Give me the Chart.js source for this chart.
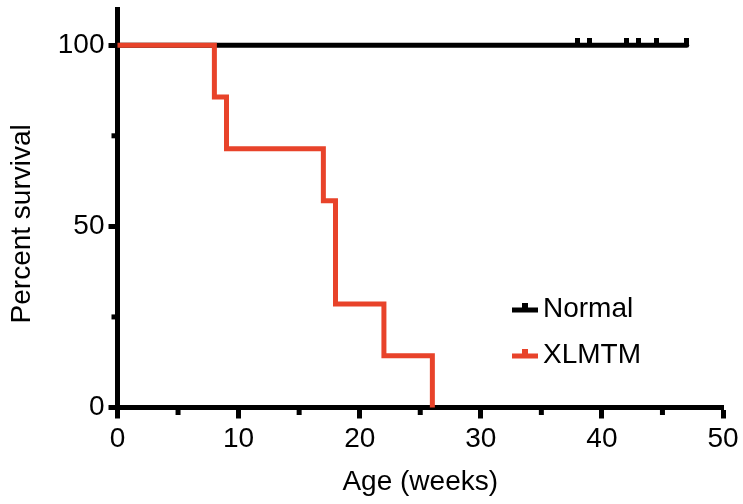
<!DOCTYPE html>
<html>
<head>
<meta charset="utf-8">
<script src="https://cdn.jsdelivr.net/npm/chart.js@4.4.1/dist/chart.umd.min.js"></script>
<style>
  html, body { margin: 0; padding: 0; background: #fff; }
  #wrap { width: 743px; height: 504px; }
</style>
</head>
<body>
<div id="wrap"><canvas id="survival"></canvas></div>
<script>
// Kaplan-Meier survival, values
const normalWeeks = [0, 38, 39, 42, 43, 44.5, 47];
const normalSurvival = [100, 100, 100, 100, 100, 100, 100];
const xlmtmWeeks = [0, 8, 9, 17, 18, 22, 26];
const xlmtmSurvival = [100, 85.7, 71.4, 57.1, 28.6, 14.3, 0];
const xMinorTicks = [5, 15, 25, 35, 45];
const yTicks = [0, 50, 100];
const yMinorTicks = [25, 75];
const seriesNames = ["Normal", "XLMTM"];
const seriesColors = ["#000000", "#e8432a"];

Chart.defaults.font.family = '"Liberation Sans", Arial, Helvetica, sans-serif';
Chart.defaults.color = "#000";

// censor tick: small block sitting on top of the line
function censorMark(color) {
  const c = document.createElement("canvas");
  c.width = 5;
  c.height = 14;
  const g = c.getContext("2d");
  g.fillStyle = color;
  g.fillRect(0, 0, 5, 7);
  return c;
}
const normalMark = censorMark(seriesColors[0]);

function toPoints(xs, ys) {
  return xs.map((x, i) => ({ x: x, y: ys[i] }));
}

// short ticks between the labelled ones
const minorTicks = {
  id: "minorTicks",
  afterDraw(chart) {
    const ctx = chart.ctx;
    const xs = chart.scales.x;
    const ys = chart.scales.y;
    const area = chart.chartArea;
    ctx.save();
    ctx.fillStyle = "#000";
    xMinorTicks.forEach((v) => {
      const px = xs.getPixelForValue(v);
      ctx.fillRect(px - 2.5, area.bottom, 5, 7.5);
    });
    yMinorTicks.forEach((v) => {
      const py = ys.getPixelForValue(v);
      ctx.fillRect(area.left - 6, py - 2.5, 6, 5);
    });
    ctx.restore();
  },
};

// legend inside the plot, bottom right
const insideLegend = {
  id: "insideLegend",
  afterDraw(chart) {
    const ctx = chart.ctx;
    ctx.save();
    ctx.font = '28px "Liberation Sans", Arial, sans-serif';
    ctx.textBaseline = "middle";
    seriesNames.forEach((name, i) => {
      const y = 310 + i * 46;
      ctx.fillStyle = seriesColors[i];
      ctx.fillRect(512, y - 2.5, 26, 5);
      ctx.fillRect(522, y - 7, 6, 5);
      ctx.fillStyle = "#000";
      ctx.fillText(name, 543, y - 1);
    });
    ctx.restore();
  },
};

new Chart(document.getElementById("survival"), {
  type: "line",
  data: {
    datasets: [
      {
        label: seriesNames[0],
        data: toPoints(normalWeeks, normalSurvival),
        borderColor: seriesColors[0],
        borderWidth: 5,
        borderCapStyle: "round",
        stepped: "before",
        pointStyle: normalMark,
        pointRadius: (c) => (c.dataIndex === 0 ? 0 : 3),
        order: 1,
      },
      {
        label: seriesNames[1],
        data: toPoints(xlmtmWeeks, xlmtmSurvival),
        borderColor: seriesColors[1],
        borderWidth: 5,
        borderCapStyle: "round",
        borderJoinStyle: "miter",
        stepped: "before",
        pointRadius: 0,
        order: 0,
      },
    ],
  },
  options: {
    responsive: true,
    maintainAspectRatio: false,
    animation: false,
    events: [],
    layout: { padding: { left: 0, right: 20, top: -3, bottom: 0 } },
    plugins: {
      legend: { display: false },
      tooltip: { enabled: false },
    },
    scales: {
      x: {
        type: "linear",
        min: 0,
        max: 50,
        ticks: { stepSize: 10, font: { size: 28 }, padding: 4 },
        grid: {
          drawOnChartArea: false,
          tickLength: 11,
          tickWidth: 5,
          tickColor: "#000",
        },
        border: { color: "#000", width: 5 },
        title: {
          display: true,
          text: "Age (weeks)",
          font: { size: 28 },
          padding: { top: 0, bottom: 5 },
        },
        afterFit: (s) => { s.height = 96.5; },
      },
      y: {
        min: 0,
        max: 110,
        ticks: { stepSize: 50, font: { size: 28 }, padding: 4 },
        afterBuildTicks: (s) => {
          s.ticks = yTicks.map((v) => ({ value: v }));
        },
        grid: {
          drawOnChartArea: false,
          tickLength: 9,
          tickWidth: 5,
          tickColor: "#000",
        },
        border: { color: "#000", width: 5 },
        title: {
          display: true,
          // trailing spaces nudge the centred title down the axis
          text: "Percent survival    ",
          font: { size: 28 },
          padding: { top: 5, bottom: 0 },
        },
        afterFit: (s) => {
          s.width = 117.5;
          s.paddingTop = 0;
          s.paddingBottom = 0;
        },
      },
    },
  },
  plugins: [minorTicks, insideLegend],
});
</script>
</body>
</html>
